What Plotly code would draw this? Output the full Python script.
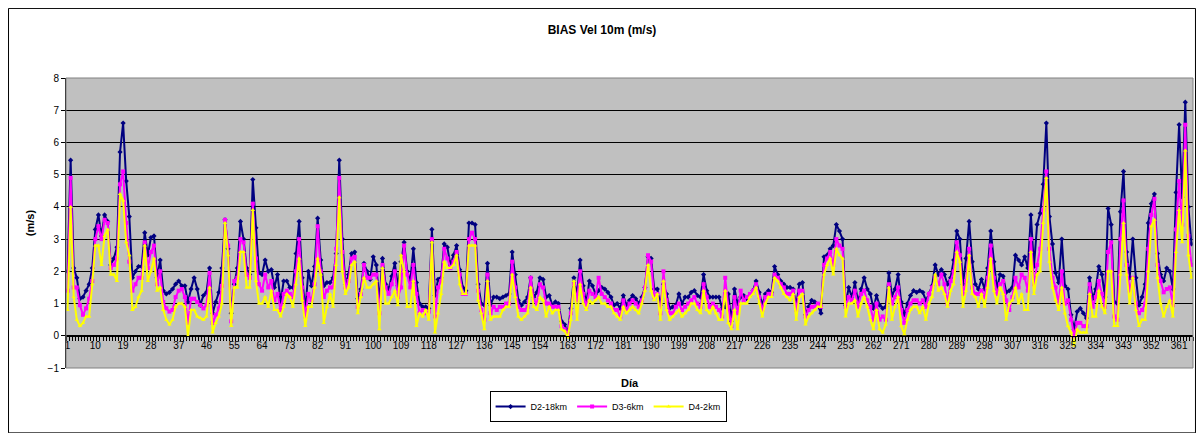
import plotly.graph_objects as go

# daily BIAS of 10 m wind speed (m/s) for each domain
days = list(range(1, 366))

d2_18km = [
    2.0, 5.45, 2.1, 1.8, 1.15, 1.2, 1.4, 1.6, 2.1, 3.3,
    3.75, 3.1, 3.75, 3.55, 2.2, 2.4, 2.75, 5.7, 6.6, 4.8,
    3.7, 1.8, 2.0, 2.15, 2.15, 3.2, 2.5, 3.05, 3.1, 1.8,
    2.35, 1.4, 1.3, 1.35, 1.45, 1.6, 1.7, 1.55, 1.55, 1.05,
    1.45, 1.8, 1.45, 0.95, 1.25, 1.35, 2.1, 0.7, 1.05, 1.35,
    2.1, 3.6, 2.7, 0.7, 1.6, 2.1, 3.55, 3.0, 2.1, 1.9,
    4.85, 3.35, 1.95, 1.9, 2.35, 2.0, 2.05, 1.5, 1.9, 1.05,
    1.7, 1.7, 1.5, 1.5, 2.55, 3.55, 1.8, 0.8, 2.0, 1.55,
    2.15, 3.65, 2.35, 1.55, 1.65, 1.65, 1.8, 2.55, 5.45, 3.0,
    1.6, 1.9, 2.55, 2.6, 1.15, 1.45, 2.25, 2.0, 1.75, 2.45,
    2.2, 1.05, 2.4, 1.6, 1.45, 1.85, 2.25, 1.55, 2.3, 2.9,
    2.0, 1.7, 2.7, 1.65, 1.0, 0.9, 0.9, 0.85, 3.3, 1.25,
    1.75, 1.8, 2.85, 2.75, 2.2, 2.5, 2.8, 2.05, 1.5, 1.4,
    3.5, 3.5, 3.45, 1.6, 1.0, 0.95, 2.25, 0.95, 1.2, 1.2,
    1.15, 1.2, 1.25, 1.3, 2.6, 1.9, 1.1, 0.95, 1.05, 1.2,
    1.8, 1.2, 1.35, 1.8, 1.75, 1.2, 1.25, 0.95, 1.05, 1.0,
    0.45, 0.35, 0.1, 0.85, 1.8, 1.25, 2.35, 1.55, 1.0, 1.7,
    1.55, 1.3, 1.4, 1.5, 1.45, 1.35, 1.2, 0.95, 1.0, 0.85,
    1.25, 0.95, 1.1, 1.25, 1.15, 1.0, 1.2, 1.5, 2.45, 2.4,
    1.45, 1.45, 0.95, 1.6, 1.3, 0.85, 0.9, 0.95, 1.3, 1.0,
    1.2, 1.2, 1.35, 1.4, 1.25, 1.2, 1.9, 1.4, 1.2, 1.2,
    1.2, 1.2, 0.85, 0.9, 1.3, 0.45, 1.45, 1.0, 1.2, 1.25,
    1.15, 1.25, 1.4, 1.7, 1.35, 0.95, 1.3, 1.4, 1.35, 2.15,
    1.9, 1.7, 1.6, 1.5, 1.5, 1.45, 0.95, 1.6, 1.65, 0.65,
    0.9, 1.1, 1.05, 0.95, 0.7, 2.45, 2.5, 2.7, 2.8, 3.45,
    3.25, 3.0, 0.95, 1.5, 1.2, 1.65, 1.05, 1.45, 1.8, 1.45,
    1.3, 0.85, 1.25, 0.95, 0.85, 0.9, 1.95, 1.25, 1.45, 1.9,
    1.05, 0.65, 1.0, 1.25, 1.4, 1.35, 1.4, 1.35, 1.1, 1.3,
    1.55, 2.2, 1.9, 2.05, 1.9, 1.6, 1.8, 2.35, 3.25, 3.0,
    1.6, 2.4, 3.55, 2.3, 1.6, 1.45, 1.75, 1.45, 2.1, 3.25,
    2.3, 1.45, 1.9, 1.85, 1.35, 1.4, 1.5, 2.5, 2.35, 2.2,
    2.45, 2.1, 3.75, 2.15, 3.45, 3.8, 4.7, 6.6, 3.7, 2.85,
    1.95, 1.65, 3.0, 1.55, 1.45, 0.65, 0.2, 0.75, 0.85, 0.7,
    0.55, 1.8, 1.15, 1.45, 2.15, 1.9, 1.2, 3.95, 3.45, 1.05,
    1.0, 3.85, 5.1, 2.6, 1.8, 3.0, 1.8, 0.95, 1.2, 1.6,
    3.5, 4.1, 4.4, 2.55, 1.9, 1.7, 2.1, 2.0, 1.45, 4.45,
    6.55, 4.3, 7.25, 4.0, 2.85,
]

d3_6km = [
    1.4, 4.9, 1.5, 1.5, 0.95, 0.65, 0.85, 1.15, 1.7, 3.0,
    3.4, 3.0, 3.6, 3.5, 2.1, 2.2, 2.4, 4.7, 5.1, 3.5,
    2.3, 1.4, 1.6, 1.8, 1.8, 2.9, 2.1, 2.6, 2.8, 1.6,
    2.0, 1.05, 0.85, 0.75, 0.8, 1.2, 1.4, 1.45, 1.2, 0.4,
    1.15, 1.15, 1.05, 0.95, 0.85, 0.95, 1.95, 0.4, 0.65, 0.85,
    1.55, 3.6, 2.8, 0.45, 1.7, 1.8, 3.0, 2.9, 1.9, 1.8,
    4.1, 2.4, 1.6, 1.4, 1.9, 1.5, 1.7, 1.1, 1.3, 0.8,
    1.3, 1.4, 1.3, 1.2, 2.0, 3.0, 1.5, 0.6, 1.3, 1.1,
    1.6, 3.4, 2.0, 1.2, 1.4, 1.5, 1.5, 2.7, 4.9, 2.6,
    1.5, 1.7, 2.4, 2.45, 0.9, 1.3, 2.2, 1.8, 1.8, 1.9,
    1.9, 0.7, 2.2, 1.5, 1.3, 1.6, 2.0, 1.2, 1.5, 2.8,
    1.9, 1.5, 2.2, 1.3, 0.7, 0.8, 0.7, 0.75, 3.0, 0.6,
    1.5, 1.7, 2.7, 2.4, 2.1, 2.3, 2.6, 1.9, 1.3, 1.3,
    3.0, 3.2, 3.0, 1.4, 0.8, 0.5, 1.9, 0.7, 0.9, 0.8,
    0.9, 0.9, 1.0, 1.0, 2.3, 1.5, 0.9, 0.8, 0.8, 0.9,
    1.8, 1.1, 1.0, 1.6, 1.5, 1.0, 1.0, 0.9, 0.9, 0.9,
    0.3, 0.2, 0.05, 0.7, 1.6, 1.1, 2.0, 1.3, 0.9, 1.4,
    1.3, 1.2, 1.8, 1.3, 1.2, 1.1, 1.0, 0.8, 0.8, 0.6,
    1.1, 0.8, 1.0, 1.1, 1.0, 0.9, 1.1, 1.5, 2.5, 2.3,
    1.2, 1.3, 0.7, 2.0, 1.1, 0.7, 0.7, 0.9, 1.0, 0.8,
    0.9, 1.0, 1.1, 1.2, 1.0, 0.9, 1.6, 1.2, 0.9, 1.0,
    0.9, 0.8, 0.6, 1.8, 0.9, 0.3, 1.2, 0.7, 1.4, 1.1,
    1.2, 1.3, 1.4, 1.6, 1.2, 0.8, 1.2, 1.3, 1.3, 1.9,
    1.8, 1.6, 1.5, 1.3, 1.3, 1.4, 0.8, 1.4, 1.4, 0.6,
    0.8, 0.9, 0.9, 1.0, 0.9, 2.2, 2.4, 2.6, 2.2, 3.0,
    2.8, 2.7, 0.9, 1.2, 1.1, 1.4, 0.9, 1.3, 1.4, 1.1,
    0.9, 0.5, 1.0, 0.5, 0.6, 0.5, 1.6, 1.0, 1.2, 1.5,
    0.8, 0.4, 0.8, 1.0, 1.1, 1.1, 1.0, 1.1, 0.9, 1.3,
    1.5, 1.8, 1.6, 1.9, 1.6, 1.0, 1.7, 2.0, 2.9, 2.5,
    1.3, 1.7, 2.7, 1.5, 1.3, 1.3, 1.4, 1.2, 1.8, 2.8,
    1.8, 1.3, 1.6, 1.7, 1.1, 0.8, 1.2, 1.8, 1.5, 1.9,
    1.8, 1.4, 3.0, 1.6, 2.2, 2.7, 3.9, 5.1, 2.7, 1.8,
    1.5, 1.0, 2.0, 1.0, 1.1, 0.5, 0.0, 0.4, 0.4, 0.3,
    0.3, 1.6, 0.9, 1.2, 1.7, 1.3, 0.9, 2.6, 2.9, 0.6,
    0.5, 3.0, 4.2, 2.2, 1.4, 1.8, 1.0, 0.7, 0.8, 1.0,
    2.7, 3.75, 4.25, 2.2, 1.7, 1.35, 1.45, 1.5, 0.95, 3.3,
    4.8, 3.45, 6.55, 3.1, 2.2,
]

d4_2km = [
    0.8, 4.0, 1.2, 0.5, 0.3, 0.4, 0.6, 0.6, 1.6, 2.8,
    2.8, 2.2, 3.1, 3.3, 1.9, 1.9, 1.7, 4.4, 4.2, 2.9,
    2.5, 0.8, 0.9, 1.2, 1.4, 2.8, 1.7, 2.0, 2.4, 1.4,
    1.5, 0.8, 0.5, 0.35, 0.5, 0.9, 1.0, 1.0, 0.9, 0.0,
    0.8, 0.8, 0.6, 0.55, 0.5, 0.6, 1.5, 0.1, 0.4, 0.6,
    1.0, 3.5, 2.5, 0.3, 1.5, 1.5, 2.6, 2.6, 1.5, 1.5,
    3.9, 1.7, 1.0, 1.0, 1.2, 0.9, 1.4, 0.8, 0.8, 0.6,
    0.9, 1.3, 1.2, 0.9, 1.6, 2.4, 1.1, 0.3, 0.9, 0.9,
    1.5, 2.4, 1.9, 0.4, 0.9, 1.3, 0.9, 2.2, 4.3, 2.0,
    1.3, 1.5, 2.2, 2.3, 0.7, 1.2, 1.8, 1.5, 1.5, 1.6,
    1.7, 0.2, 2.1, 1.0, 1.0, 1.2, 1.4, 0.95, 2.5, 2.0,
    0.9, 0.9, 1.7, 0.3, 0.7, 0.6, 0.8, 0.5, 2.9, 0.1,
    0.7, 1.3, 2.3, 2.1, 2.1, 2.2, 2.5, 1.6, 1.3, 1.3,
    2.8, 2.8, 2.8, 1.1, 0.7, 0.2, 1.7, 0.5, 0.6, 0.6,
    0.6, 0.8, 0.9, 0.9, 1.9, 1.2, 0.6, 0.5, 0.6, 0.7,
    1.5, 0.9, 0.8, 1.2, 1.1, 0.6, 0.9, 0.7, 0.8, 0.8,
    0.2, 0.15, -0.05, 0.5, 1.7, 0.5, 1.6, 1.0, 0.8, 1.1,
    1.0, 1.1, 1.2, 1.0, 1.0, 0.9, 0.9, 0.7, 0.6, 0.5,
    0.9, 0.7, 0.8, 0.9, 0.8, 0.7, 1.0, 1.4, 2.2, 1.4,
    1.1, 1.3, 0.5, 1.7, 0.8, 0.5, 0.6, 0.7, 0.8, 0.6,
    0.7, 0.8, 1.0, 1.0, 0.8, 0.7, 1.4, 0.8, 0.7, 0.9,
    0.7, 0.5, 0.5, 1.4, 0.4, 0.2, 0.8, 0.2, 1.0, 1.0,
    1.0, 1.2, 1.3, 1.5, 1.0, 0.6, 1.0, 1.2, 1.2, 1.8,
    1.7, 1.5, 1.3, 1.2, 1.1, 1.3, 0.5, 1.2, 1.3, 0.35,
    0.6, 0.7, 0.8, 0.9, 0.9, 1.9, 2.2, 2.4, 1.9, 2.7,
    2.5, 2.4, 0.6, 1.0, 1.0, 1.1, 0.6, 1.0, 1.2, 0.9,
    0.5, 0.2, 0.8, 0.2, 0.1, 0.35, 1.5, 0.5, 0.9, 1.2,
    0.3, 0.05, 0.5, 0.8, 0.9, 0.9, 0.7, 0.9, 0.5, 1.0,
    1.2, 1.9, 1.4, 1.5, 1.3, 0.9, 1.4, 1.6, 2.6, 2.3,
    0.9, 1.4, 2.5, 1.3, 1.2, 0.9, 1.3, 0.9, 1.5, 2.4,
    1.4, 1.0, 1.5, 1.3, 0.5, 1.0, 1.1, 1.5, 1.0, 1.3,
    0.8, 0.8, 2.6, 1.3, 1.9, 2.0, 3.5, 4.9, 2.3, 1.5,
    1.1, 0.8, 1.5, 0.7, 0.3, 0.1, -0.3, 0.2, 0.1, 0.1,
    0.1, 1.3, 0.6, 0.6, 1.4, 0.9, 0.7, 2.0, 2.0, 0.3,
    0.3, 1.9, 3.5, 1.9, 1.0, 1.8, 0.8, 0.3, 0.5, 0.5,
    2.0, 3.4, 3.6, 1.8, 1.0, 0.6, 0.9, 1.1, 0.6, 2.6,
    3.9, 2.9, 5.75, 2.5, 1.8,
]

tick_days = list(range(1, 366, 9))
y_ticks = list(range(-1, 9))

series = [
    ("D2-18km", d2_18km, "#000080", "diamond"),
    ("D3-6km", d3_6km, "#FF00FF", "square"),
    ("D4-2km", d4_2km, "#FFFF00", "triangle-up"),
]

fig = go.Figure()
for name, values, color, symbol in series:
    fig.add_trace(
        go.Scatter(
            x=days,
            y=values,
            name=name,
            mode="lines+markers",
            line=dict(color=color, width=2),
            marker=dict(color=color, symbol=symbol, size=4),
        )
    )

font_family = "Arial, Liberation Sans, sans-serif"

# the page body keeps its 8 px margin, so the figure is sized to fit inside it
fig.update_layout(
    width=1188,
    height=425,
    paper_bgcolor="white",
    plot_bgcolor="#C0C0C0",
    margin=dict(l=58, r=3, t=70, b=65),
    font=dict(family=font_family, size=10, color="black"),
    title=dict(
        text="<b>BIAS Vel 10m (m/s)</b>",
        x=0.5,
        xref="container",
        xanchor="center",
        y=1 - 22 / 425,
        yref="container",
        yanchor="middle",
        font=dict(size=12),
    ),
    legend=dict(
        orientation="h",
        x=0.481,
        xanchor="center",
        y=-0.133,
        yanchor="middle",
        bgcolor="white",
        bordercolor="black",
        borderwidth=1,
        font=dict(size=9),
        itemwidth=30,
        tracegroupgap=0,
    ),
    showlegend=True,
)

fig.update_xaxes(
    range=[0.5, 365.5],
    tickmode="array",
    tickvals=tick_days,
    ticktext=[str(d) for d in tick_days],
    ticks="",
    showgrid=False,
    zeroline=False,
    showline=True,
    linecolor="black",
    linewidth=1,
    anchor="free",
    position=1 / 9,
    minor=dict(tickmode="linear", tick0=0.5, dtick=1, ticks="outside", ticklen=4, tickcolor="black", showgrid=False),
    tickfont=dict(size=10),
    title=dict(text="<b>Día</b>", font=dict(size=11), standoff=29),
)

fig.update_yaxes(
    range=[-1, 8],
    tickmode="array",
    tickvals=y_ticks,
    showgrid=True,
    gridcolor="black",
    gridwidth=1,
    zeroline=False,
    showline=True,
    linecolor="black",
    ticks="outside",
    ticklen=4,
    tickcolor="black",
    tickfont=dict(size=10),
    title=dict(text="<b>(m/s)</b>", font=dict(size=11), standoff=10),
)

# plot area frame and chart border
fig.add_shape(type="rect", xref="paper", yref="paper", x0=0, x1=1, y0=0, y1=1,
              line=dict(color="#808080", width=1))
fig.add_shape(type="rect", xref="paper", yref="paper", x0=-0.051, x1=1.0022, y0=-0.2237, y1=1.2399,
              line=dict(color="black", width=1))

fig.write_html("out.html")
